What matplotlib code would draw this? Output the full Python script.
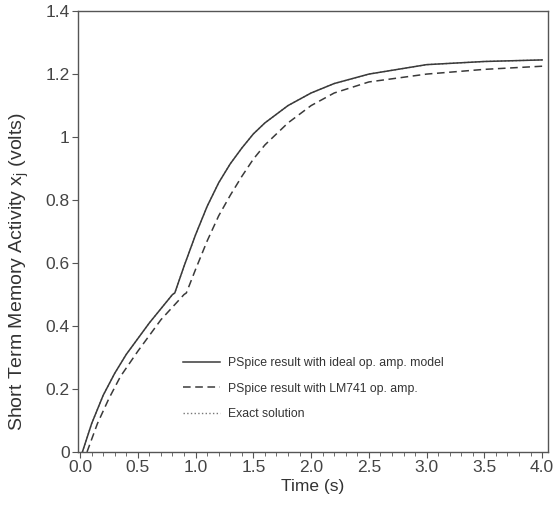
import matplotlib.pyplot as plt
import numpy as np
from matplotlib.ticker import MultipleLocator

plt.rcParams['font.family'] = ['Liberation Sans', 'DejaVu Sans']

# PSpice result with ideal op. amp. model
t_ideal = [0.02, 0.1, 0.2, 0.3, 0.4, 0.5, 0.6, 0.7, 0.8, 0.82, 0.9, 1.0, 1.1, 1.2, 1.3,
           1.4, 1.5, 1.6, 1.8, 2.0, 2.2, 2.5, 3.0, 3.5, 4.0]
v_ideal = [0.0, 0.09, 0.18, 0.25, 0.31, 0.36, 0.41, 0.455, 0.50, 0.505, 0.59, 0.69, 0.78,
           0.855, 0.915, 0.965, 1.01, 1.045, 1.10, 1.14, 1.17, 1.20, 1.23, 1.24, 1.245]

# PSpice result with LM741 op. amp.
t_lm741 = [0.06, 0.15, 0.25, 0.35, 0.5, 0.6, 0.7, 0.8, 0.9, 0.92, 1.0, 1.1, 1.2, 1.3,
           1.4, 1.5, 1.6, 1.8, 2.0, 2.2, 2.5, 3.0, 3.5, 4.0]
v_lm741 = [0.0, 0.09, 0.17, 0.24, 0.32, 0.37, 0.42, 0.46, 0.50, 0.505, 0.58, 0.67, 0.75,
           0.815, 0.875, 0.93, 0.975, 1.045, 1.10, 1.14, 1.175, 1.20, 1.215, 1.225]

# Exact solution (lies under the ideal curve)
t_exact = [0.02, 0.1, 0.2, 0.3, 0.4, 0.5, 0.6, 0.7, 0.8, 0.82, 0.9, 1.0, 1.1, 1.2, 1.3,
           1.4, 1.5, 1.6, 1.8, 2.0, 2.2, 2.5, 3.0, 3.5, 4.0]
v_exact = [0.0, 0.09, 0.18, 0.25, 0.31, 0.36, 0.41, 0.455, 0.50, 0.505, 0.59, 0.69, 0.78,
           0.855, 0.915, 0.965, 1.01, 1.045, 1.10, 1.14, 1.17, 1.20, 1.23, 1.24, 1.245]

x_ticks = [0.0, 0.5, 1.0, 1.5, 2.0, 2.5, 3.0, 3.5, 4.0]
y_ticks = [0, 0.2, 0.4, 0.6, 0.8, 1.0, 1.2, 1.4]
y_tick_labels = ['0', '0.2', '0.4', '0.6', '0.8', '1', '1.2', '1.4']

fig = plt.figure(figsize=(5.54, 5.05), dpi=100)
ax = fig.add_axes([0.141, 0.105, 0.848, 0.873])

line_color = '#3a3a3a'
ax.plot(t_exact, v_exact, color='#777777', linestyle=':', linewidth=1.0, label='Exact solution')
ax.plot(t_ideal, v_ideal, color=line_color, linestyle='-', linewidth=1.1,
        label='PSpice result with ideal op. amp. model')
ax.plot(t_lm741, v_lm741, color=line_color, linestyle=(0, (5, 3)), linewidth=1.1,
        label='PSpice result with LM741 op. amp.')

ax.set_xlim(-0.017, 4.05)
ax.set_ylim(0, 1.4)
ax.set_xticks(x_ticks)
ax.set_xticklabels([f'{x:.1f}' for x in x_ticks])
ax.xaxis.set_minor_locator(MultipleLocator(0.1))
ax.set_yticks(y_ticks)
ax.set_yticklabels(y_tick_labels)

for s in ax.spines.values():
    s.set_color('#555555')
    s.set_linewidth(1.0)

ax.tick_params(axis='both', which='major', labelsize=12.5, colors='#555555',
               labelcolor='#444444', length=4, direction='out', pad=2)
ax.tick_params(axis='x', which='minor', length=3, color='#555555', direction='out')

ax.set_xlabel('Time (s)', fontsize=12.5, color='#333333', labelpad=3)
ax.set_ylabel('Short Term Memory Activity x$_\\mathregular{j}$ (volts)', fontsize=14,
              color='#333333')
ax.yaxis.set_label_coords(-0.100, 0.41)

handles, labels = ax.get_legend_handles_labels()
order = [1, 2, 0]
leg = ax.legend([handles[i] for i in order], [labels[i] for i in order],
                loc='upper left', bbox_to_anchor=(0.2, 0.24), frameon=False,
                fontsize=8.8, handlelength=3.0, labelspacing=1.1, handletextpad=0.7)
for txt in leg.get_texts():
    txt.set_color('#333333')

fig.savefig('out.png', dpi=100)
